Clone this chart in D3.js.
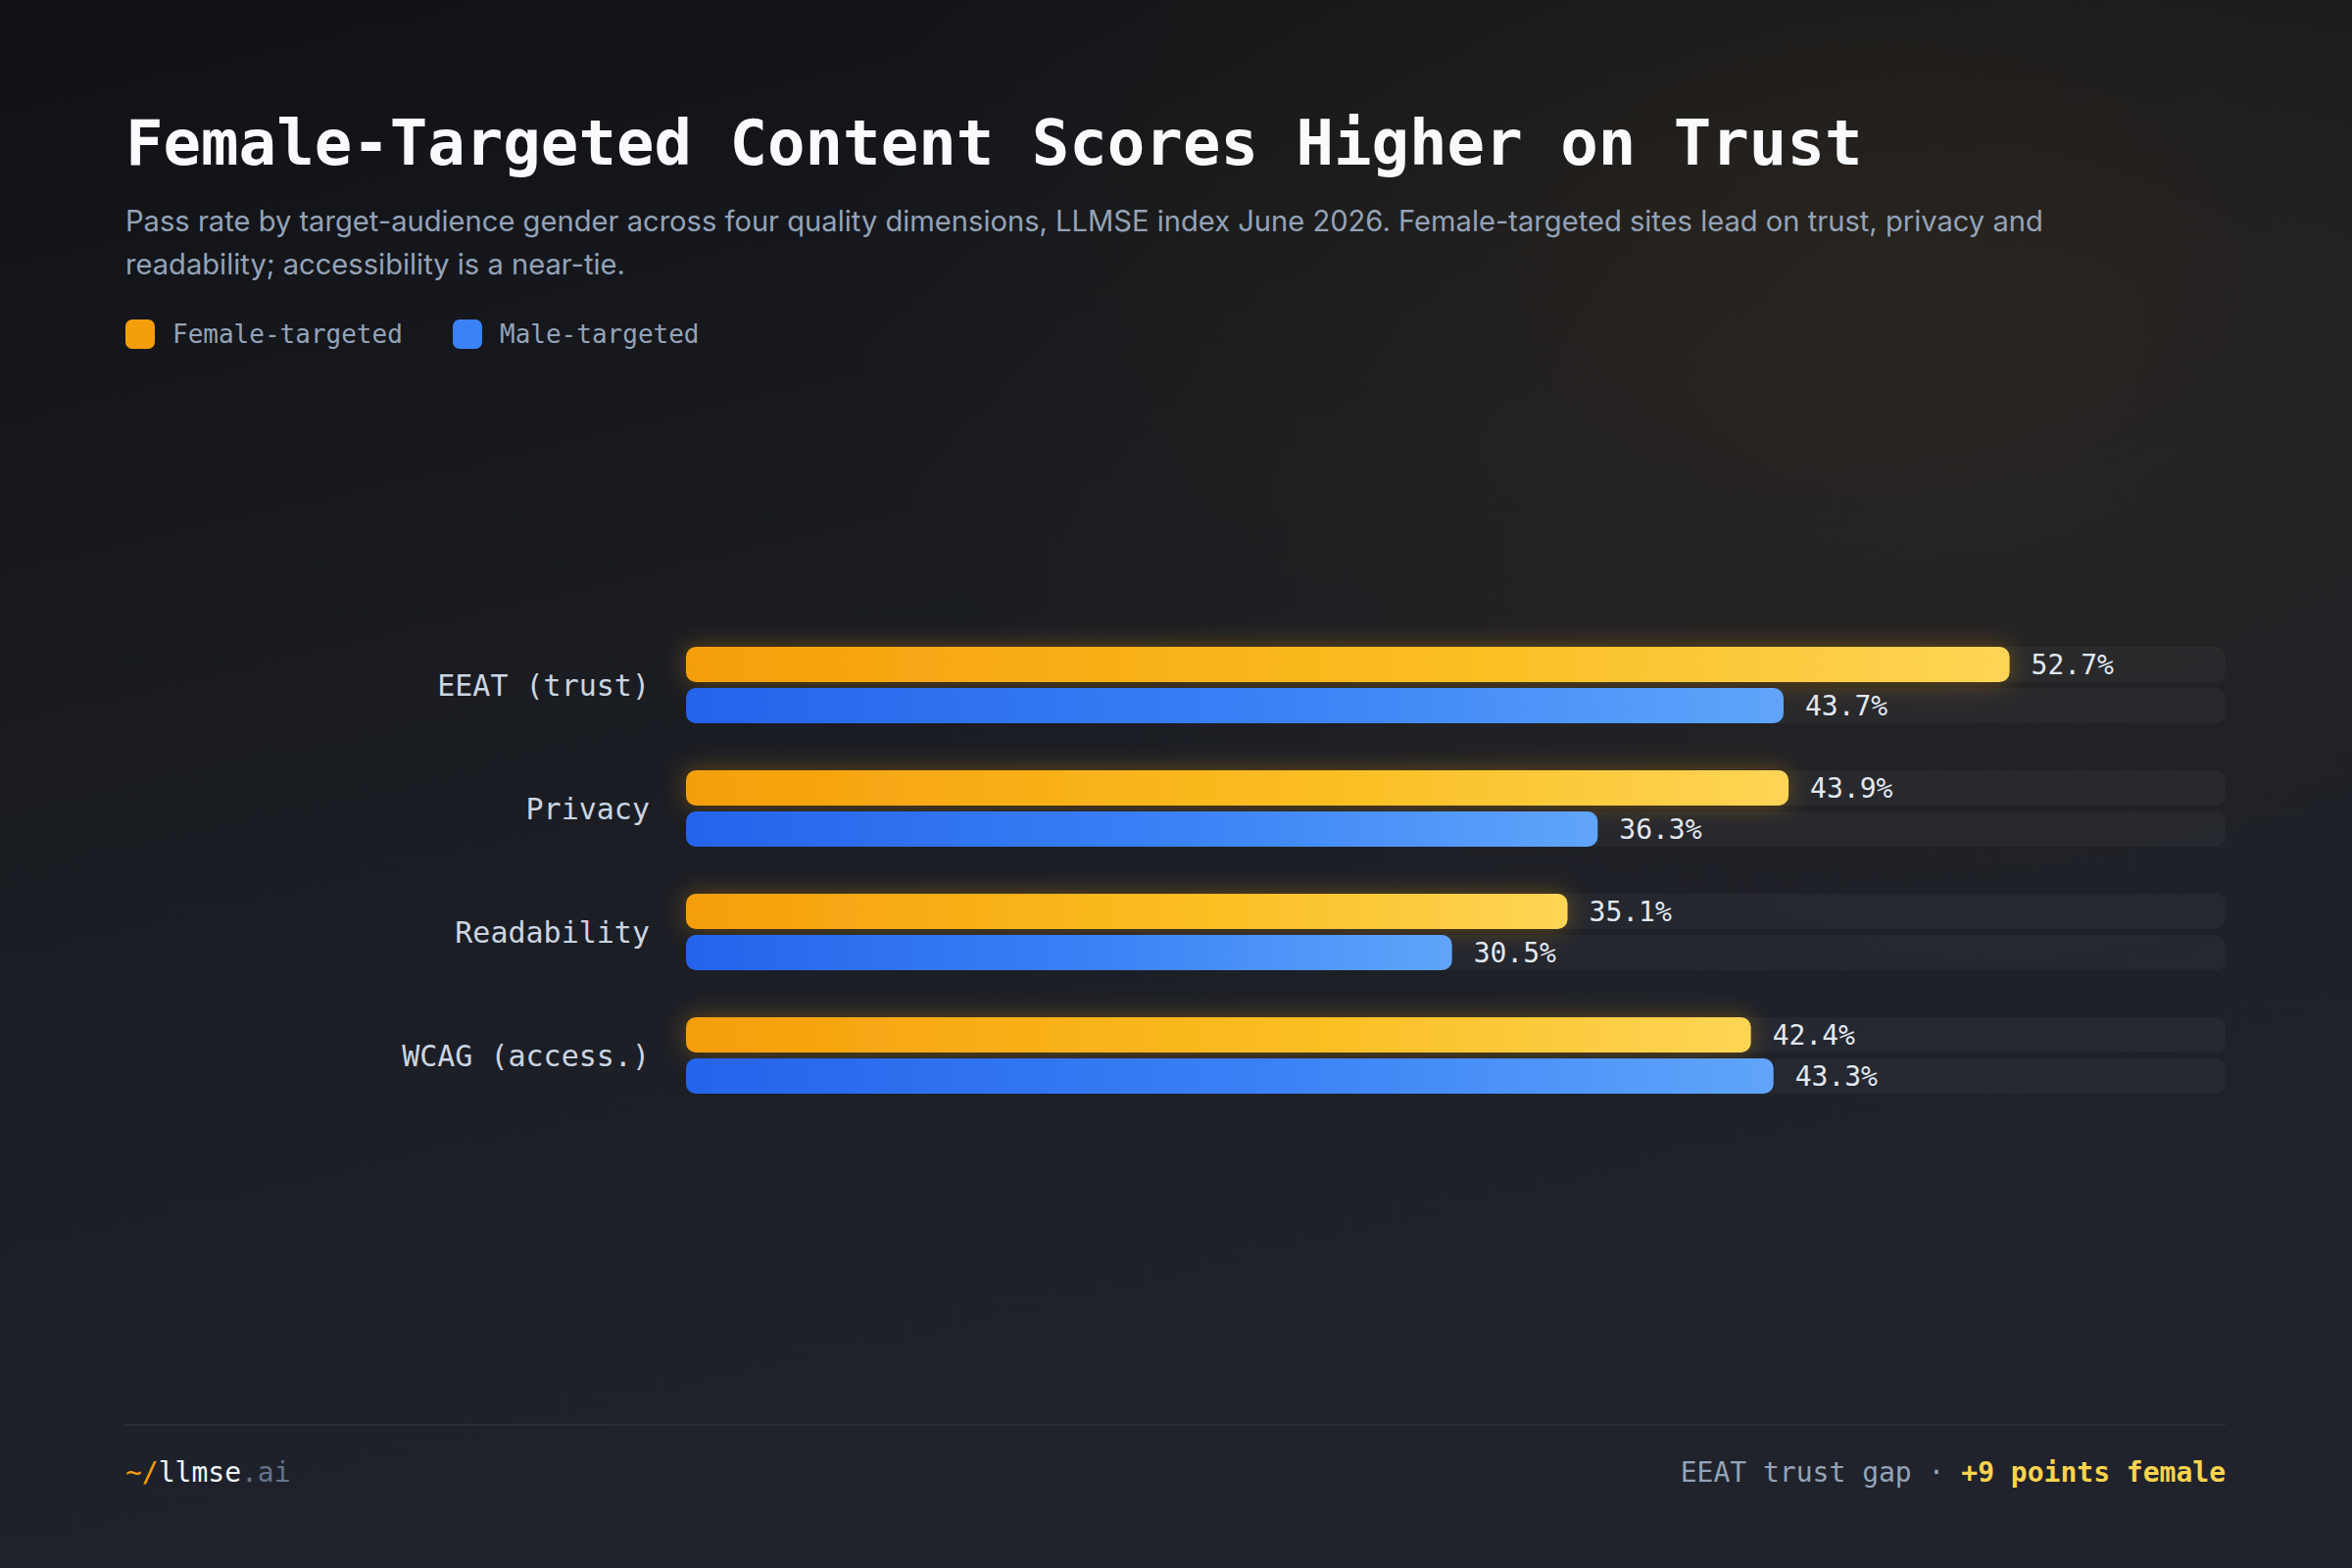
<!DOCTYPE html>
<html>
<head>
<meta charset="utf-8">
<script src="https://cdn.jsdelivr.net/npm/d3@7.9.0/dist/d3.min.js"></script>
<style>
  html, body { margin: 0; padding: 0; background: #15171c; }
  svg { display: block; }
  .mono { font-family: 'DejaVu Sans Mono', monospace; }
  .sans { font-family: 'Inter', 'Noto Sans', sans-serif; }
</style>
</head>
<body>
<div id="chart"></div>
<script>
// data
const categories = ['EEAT (trust)', 'Privacy', 'Readability', 'WCAG (access.)'];
const seriesNames = ['Female-targeted', 'Male-targeted'];
const femaleValues = [52.7, 43.9, 35.1, 42.4];
const maleValues = [43.7, 36.3, 30.5, 43.3];
const xMax = 61.3;

const titleText = 'Female-Targeted Content Scores Higher on Trust';
const subtitleLines = [
  'Pass rate by target-audience gender across four quality dimensions, LLMSE index June 2026. Female-targeted sites lead on trust, privacy and',
  'readability; accessibility is a near-tie.'
];

const width = 2400;
const height = 1600;

const rows = categories.map((c, i) => ({
  category: c,
  values: [
    { series: seriesNames[0], value: femaleValues[i] },
    { series: seriesNames[1], value: maleValues[i] },
  ],
}));

const svg = d3.select('#chart')
  .append('svg')
  .attr('width', width)
  .attr('height', height)
  .attr('viewBox', `0 0 ${width} ${height}`);

const defs = svg.append('defs');

// background
const bg = defs.append('linearGradient').attr('id', 'bg')
  .attr('x1', 0).attr('y1', 0).attr('x2', 0.35).attr('y2', 1);
bg.append('stop').attr('offset', '0%').attr('stop-color', '#0f1115');
bg.append('stop').attr('offset', '45%').attr('stop-color', '#1a1c22');
bg.append('stop').attr('offset', '100%').attr('stop-color', '#20232c');

const warm = defs.append('radialGradient').attr('id', 'warm')
  .attr('cx', 0.8).attr('cy', 0.18).attr('r', 0.45);
warm.append('stop').attr('offset', '0%').attr('stop-color', '#f59e0b').attr('stop-opacity', 0.07);
warm.append('stop').attr('offset', '100%').attr('stop-color', '#f59e0b').attr('stop-opacity', 0);

svg.append('rect').attr('width', width).attr('height', height).attr('fill', 'url(#bg)');
svg.append('rect').attr('width', width).attr('height', height).attr('fill', 'url(#warm)');

// bar gradients
const gradFemale = defs.append('linearGradient').attr('id', 'gradFemale');
gradFemale.append('stop').attr('offset', '0%').attr('stop-color', '#f59e0b');
gradFemale.append('stop').attr('offset', '60%').attr('stop-color', '#fbbf24');
gradFemale.append('stop').attr('offset', '100%').attr('stop-color', '#fdd555');

const gradMale = defs.append('linearGradient').attr('id', 'gradMale');
gradMale.append('stop').attr('offset', '0%').attr('stop-color', '#2563eb');
gradMale.append('stop').attr('offset', '55%').attr('stop-color', '#3b82f6');
gradMale.append('stop').attr('offset', '100%').attr('stop-color', '#60a5fa');

const glow = defs.append('filter').attr('id', 'glow')
  .attr('x', '-10%').attr('y', '-100%').attr('width', '120%').attr('height', '300%');
glow.append('feDropShadow').attr('dx', 0).attr('dy', 0).attr('stdDeviation', 12)
  .attr('flood-color', '#f59e0b').attr('flood-opacity', 0.35);

// title + subtitle
svg.append('text')
  .attr('class', 'mono')
  .attr('x', 128).attr('y', 168)
  .attr('font-size', 64).attr('font-weight', 700)
  .attr('fill', '#f8fafc')
  .text(titleText);

const sub = svg.append('text')
  .attr('class', 'sans')
  .attr('font-size', 28)
  .attr('fill', '#94a3b8');
sub.selectAll('tspan')
  .data(subtitleLines)
  .join('tspan')
  .attr('x', 128)
  .attr('y', (d, i) => 236 + i * 44)
  .text(d => d);

// fit first subtitle line to the reference width
const firstLine = sub.select('tspan').node();
const w0 = firstLine.getComputedTextLength();
if (w0 > 0) sub.attr('font-size', 28 * 1958 / w0);

// legend
const legendColors = ['#f59e0b', '#3b82f6'];
const legendX = [128, 462];
const legend = svg.append('g').attr('class', 'legend');
seriesNames.forEach((name, i) => {
  legend.append('rect')
    .attr('x', legendX[i]).attr('y', 326)
    .attr('width', 30).attr('height', 30).attr('rx', 7)
    .attr('fill', legendColors[i]);
  legend.append('text')
    .attr('class', 'mono')
    .attr('x', legendX[i] + 48).attr('y', 350)
    .attr('font-size', 26)
    .attr('fill', '#94a3b8')
    .text(name);
});

// scales
const x = d3.scaleLinear().domain([0, xMax]).range([700, 2271]);
const y = d3.scaleBand().domain(categories).range([660, 1116]).paddingInner(48 / 126).paddingOuter(0);
const y1 = d3.scaleBand().domain(seriesNames).range([0, y.bandwidth()]).paddingInner(6 / 42);
const fills = { [seriesNames[0]]: 'url(#gradFemale)', [seriesNames[1]]: 'url(#gradMale)' };

const groups = svg.append('g').attr('class', 'bars')
  .selectAll('g')
  .data(rows)
  .join('g')
  .attr('transform', d => `translate(0, ${y(d.category)})`);

// category labels
groups.append('text')
  .attr('class', 'mono')
  .attr('x', 663)
  .attr('y', y.bandwidth() / 2)
  .attr('dy', '0.35em')
  .attr('text-anchor', 'end')
  .attr('font-size', 30)
  .attr('fill', '#cbd5e1')
  .text(d => d.category);

// tracks
groups.selectAll('rect.track')
  .data(d => d.values)
  .join('rect')
  .attr('class', 'track')
  .attr('x', x(0))
  .attr('y', d => y1(d.series))
  .attr('width', x(xMax) - x(0))
  .attr('height', y1.bandwidth())
  .attr('rx', 10)
  .attr('fill', 'rgba(255,255,255,0.035)');

// bars
groups.selectAll('rect.bar')
  .data(d => d.values)
  .join('rect')
  .attr('class', 'bar')
  .attr('x', x(0))
  .attr('y', d => y1(d.series))
  .attr('width', d => x(d.value) - x(0))
  .attr('height', y1.bandwidth())
  .attr('rx', 10)
  .attr('fill', d => fills[d.series])
  .attr('filter', d => d.series === seriesNames[0] ? 'url(#glow)' : null);

// value labels
groups.selectAll('text.value')
  .data(d => d.values)
  .join('text')
  .attr('class', 'value mono')
  .attr('x', d => x(d.value) + 22)
  .attr('y', d => y1(d.series) + y1.bandwidth() / 2)
  .attr('dy', '0.36em')
  .attr('font-size', 28)
  .attr('fill', '#e2e8f0')
  .text(d => d.value.toFixed(1) + '%');

// footer
svg.append('line')
  .attr('x1', 128).attr('x2', 2271)
  .attr('y1', 1454).attr('y2', 1454)
  .attr('stroke', '#2a2e3a').attr('stroke-width', 2);

const brand = svg.append('text')
  .attr('class', 'mono')
  .attr('x', 128).attr('y', 1512)
  .attr('font-size', 28);
brand.append('tspan').attr('fill', '#f59e0b').text('~/');
brand.append('tspan').attr('fill', '#f1f5f9').text('llmse');
brand.append('tspan').attr('fill', '#64748b').text('.ai');

const note = svg.append('text')
  .attr('class', 'mono')
  .attr('x', 2271).attr('y', 1512)
  .attr('text-anchor', 'end')
  .attr('font-size', 28);
note.append('tspan').attr('fill', '#94a3b8').text('EEAT trust gap · ');
note.append('tspan').attr('fill', '#fcd34d').attr('font-weight', 700).text('+9 points female');
</script>
</body>
</html>
